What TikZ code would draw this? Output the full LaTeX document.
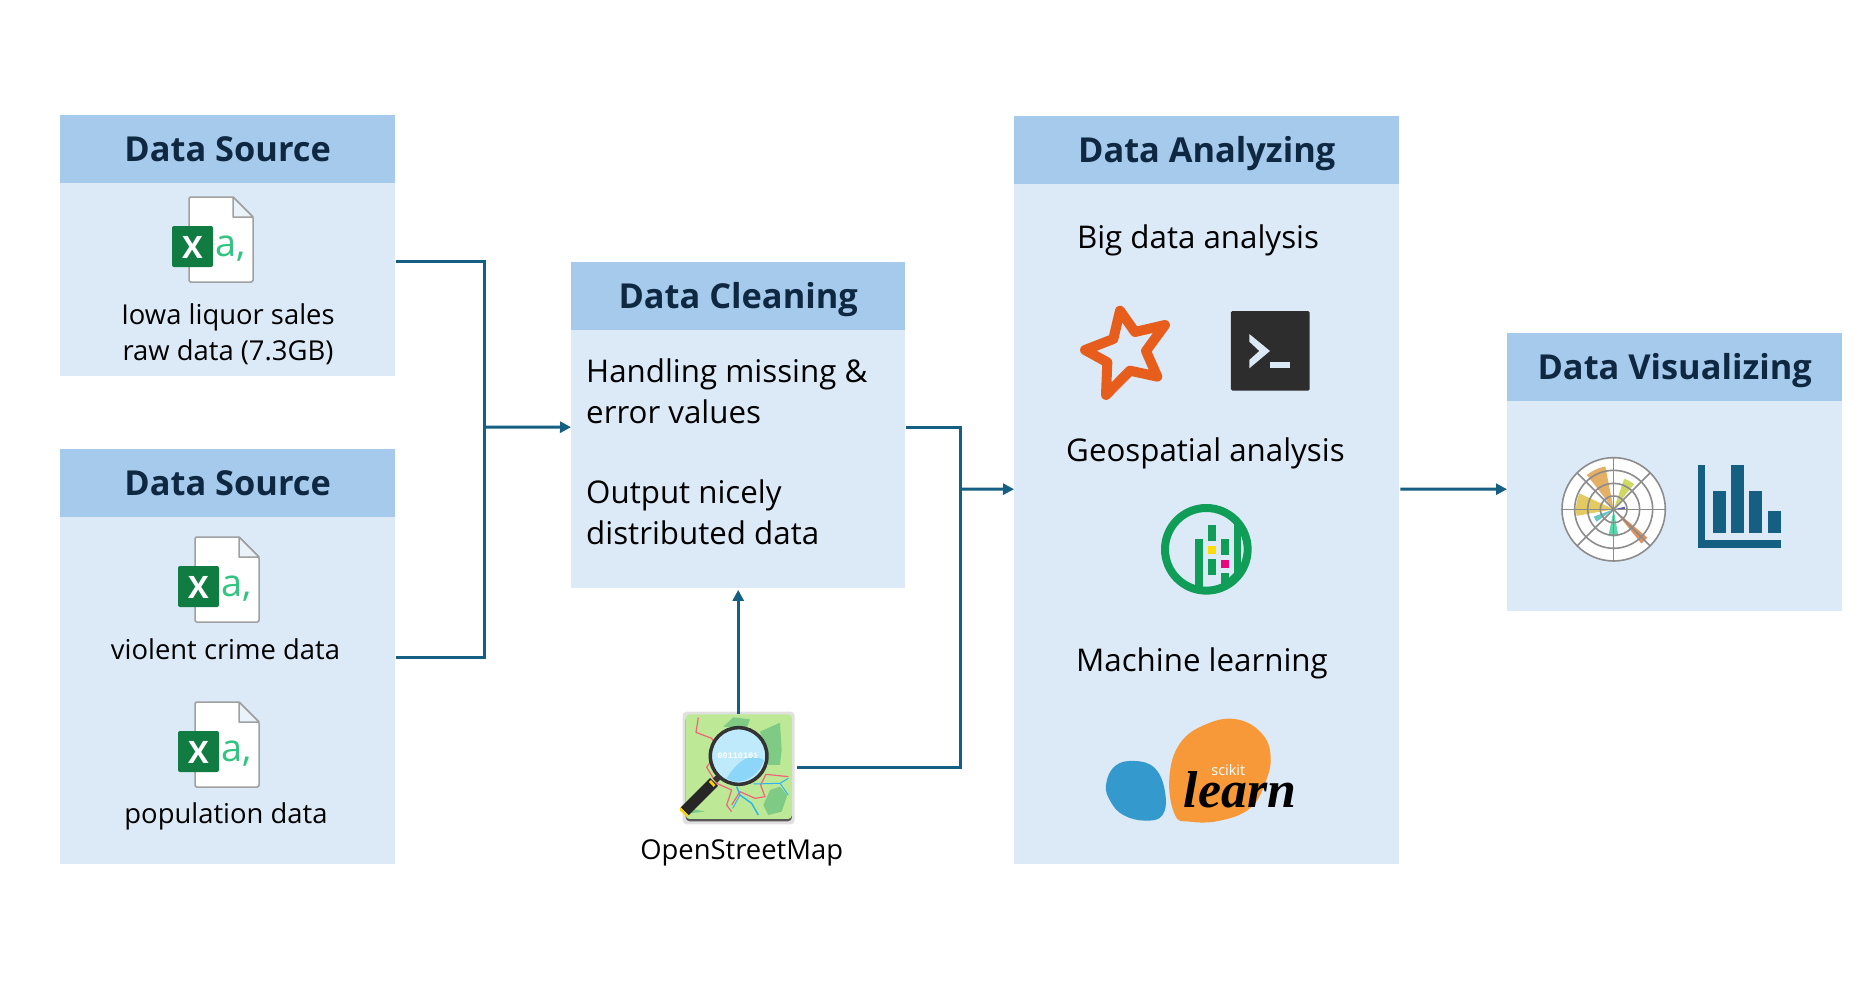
\documentclass[tikz,border=0pt]{standalone}
\usepackage{fontspec}
\setmainfont{Open Sans}
\newfontfamily\learnfont{Liberation Serif}
\newfontfamily\monofnt{Liberation Mono}
\usetikzlibrary{arrows.meta,calc}
\definecolor{headc}{HTML}{A6CAEC}
\definecolor{bodyc}{HTML}{DCEAF7}
\definecolor{navy}{HTML}{0E2841}
\definecolor{flow}{HTML}{156082}
\definecolor{xlgreen}{HTML}{107C41}
\definecolor{xla}{HTML}{33C481}
\definecolor{docgray}{HTML}{A0A0A0}
\definecolor{spark}{HTML}{E65D1C}
\definecolor{term}{HTML}{2D2D2D}
\definecolor{ringgreen}{HTML}{0F9D58}
\definecolor{skorange}{HTML}{F89939}
\definecolor{skblue}{HTML}{3499CD}
\definecolor{polgray}{HTML}{8C8C8C}
\definecolor{osmg}{HTML}{BDE997}
\definecolor{osmd}{HTML}{7FCB85}
\definecolor{osmr}{HTML}{F0637A}
\definecolor{osmb}{HTML}{2EB4F5}
\definecolor{wyellow}{HTML}{E3C85A}
\definecolor{wtan}{HTML}{E3AC5E}
\definecolor{wolive}{HTML}{CCD65B}
\definecolor{wpurple}{HTML}{5A55B5}
\definecolor{worange}{HTML}{E38B52}
\definecolor{wgreen}{HTML}{52D6A8}
\definecolor{wteal}{HTML}{5CC5C5}
\tikzset{
  headbox/.style={fill=headc,inner sep=0,anchor=north west,text=navy,
    text height=31bp,text depth=7bp,
    font=\fontsize{34.5}{34.5}\selectfont\bfseries},
  bodybox/.style={fill=bodyc,inner sep=0,anchor=north west},
  lbl/.style={inner sep=0,text=black,anchor=base,font=\fontsize{27.5}{36}\selectfont,align=center},
  biglbl/.style={inner sep=0,text=black,anchor=base,font=\fontsize{31.4}{41}\selectfont,align=left},
  flowline/.style={draw=flow,line width=3bp},
  flowarrow/.style={flowline,-{Triangle[length=11bp,width=11bp]}}
}
\newcommand{\xlicon}[2]{%
  \begin{scope}[shift={(#1,#2)}]
    \draw[docgray,line width=1.5bp,fill=white,line join=round,rounded corners=1.5bp]
      (189,197) -- (233,197) -- (253,217) -- (253,282) -- (189,282) -- cycle;
    \draw[docgray,line width=1.5bp,fill=bodyc!60!white,line join=round] (233,197) -- (233,217) -- (253,217) -- cycle;
    \fill[xlgreen,rounded corners=2bp] (172,226) rectangle (213,267);
    \node[inner sep=0,anchor=base,text=white,font=\fontsize{31}{31}\selectfont\bfseries] (xlx#2) at (192.5,258) {X};
    \node[inner sep=0,anchor=base west,text=xla,font=\fontsize{38}{38}\selectfont] (xla#2) at (215,256) {a,};
  \end{scope}}
\newcommand{\rosewedge}[4]{%
  \fill[#4,opacity=.95] (251,208) -- plot[domain=#1:#2,samples=8] ({251+#3*cos(\x)},{208-#3*sin(\x)}) -- cycle;}
\begin{document}
\begin{tikzpicture}[x=1bp,y=-1bp]
\useasboundingbox (0,0) rectangle (1874,985);
\fill[white] (0,0) rectangle (1874,985);

% boxes
\node[bodybox,minimum width=335bp,minimum height=193bp] (s1body) at (60,183) {};
\node[headbox,minimum width=335bp,minimum height=68bp] (s1head) at (60,115) {Data Source};
\node[bodybox,minimum width=335bp,minimum height=347bp] (s2body) at (60,517) {};
\node[headbox,minimum width=335bp,minimum height=68bp] (s2head) at (60,449) {Data Source};
\node[bodybox,minimum width=334bp,minimum height=258bp] (cbody) at (571,330) {};
\node[headbox,minimum width=334bp,minimum height=68bp] (chead) at (571,262) {Data Cleaning};
\node[bodybox,minimum width=385bp,minimum height=680bp] (abody) at (1014,184) {};
\node[headbox,minimum width=385bp,minimum height=68bp] (ahead) at (1014,116) {Data Analyzing};
\node[bodybox,minimum width=335bp,minimum height=210bp] (vbody) at (1507,401) {};
\node[headbox,minimum width=335bp,minimum height=68bp] (vhead) at (1507,333) {Data Visualizing};

% excel icons
\xlicon{0}{0}
\xlicon{6}{340}
\xlicon{6}{505}

% labels (anchor base = baseline of the last line)
\node[lbl] (t1) at (228,360) {Iowa liquor sales\\raw data (7.3GB)};
\node[lbl] (t2) at (225.5,659) {violent crime data};
\node[lbl] (t3) at (226,823.5) {population data};
\node[lbl] (t4) at (741.7,859) {OpenStreetMap};
\node[biglbl,anchor=base west] (t5) at (586,423) {Handling missing \&\\error values};
\node[biglbl,anchor=base west] (t6) at (586,544) {Output nicely\\distributed data};
\node[biglbl] (t7) at (1198,248) {Big data analysis};
\node[biglbl] (t8) at (1205.5,461) {Geospatial analysis};
\node[biglbl] (t9) at (1202,671) {Machine learning};

% spark star
\begin{scope}[shift={(1050,280)},x=.3333bp,y=-.3333bp]
  \draw[spark,line width=10bp,line join=round]
    (210,92) -- (255,156) -- (345,135) -- (288,213) -- (322,290) -- (240,272)
    -- (168,345) -- (172,247) -- (105,210) -- (190,177) -- cycle;
  % terminal
  \fill[term,rounded corners=1.5bp] (543,93) rectangle (779,332);
  \fill[bodyc] (598,162) -- (660,213) -- (598,265) -- (598,240) -- (628,213) -- (598,185) -- cycle;
  \fill[bodyc] (661,245) rectangle (721,263);
\end{scope}

% geospatial ring icon
\begin{scope}[shift={(1130,480)},x=.3333bp,y=-.3333bp]
  \draw[ringgreen,line width=8bp] (229,208) circle[radius=124];
  \fill[ringgreen] (196,177) rectangle (219,325);
  \fill[ringgreen] (234,135) rectangle (258,184);
  \fill[ringgreen] (234,238) rectangle (258,286);
  \fill[ringgreen] (272,177) rectangle (296,225);
  \fill[ringgreen] (272,279) rectangle (296,325);
  \fill[ringgreen] (311,125) rectangle (334,290);
  \fill[ringgreen] (296,295) -- (311,280) -- (334,280) -- (311,305) -- cycle;
  \fill[yellow!80!orange] (234,199) rectangle (258,222);
  \fill[magenta!85!red] (272,240) rectangle (296,264);
\end{scope}

% scikit-learn
\begin{scope}[shift={(1080,700)},x=.3333bp,y=-.3333bp]
  \fill[skblue] plot[smooth cycle,tension=.7] coordinates
    {(78,255) (105,198) (165,183) (225,205) (255,275) (248,345) (195,362) (130,345) (92,305)};
  \fill[skorange] plot[smooth cycle,tension=.7] coordinates
    {(268,235) (300,130) (380,72) (470,58) (545,100) (572,170) (555,250) (510,325) (420,362) (330,365) (285,345)};
  \node[inner sep=0,anchor=base,text=white,font=\fontsize{14.5}{14.5}\selectfont] (sk) at (445,226) {scikit};
  \node[inner sep=0,anchor=base,text=black,font=\fontsize{52}{52}\learnfont\selectfont\bfseries\itshape] (learn) at (480,322) {learn};
\end{scope}

% polar chart and bar chart
\begin{scope}[shift={(1530,440)},x=.3333bp,y=-.3333bp]
  \fill[white] (251,208) circle[radius=155];
  \rosewedge{155}{190}{113}{wyellow}
  \rosewedge{101}{128}{131}{wtan}
  \rosewedge{51}{71}{97}{wolive}
  \rosewedge{0}{13}{34}{wpurple}
  \rosewedge{-51}{-40}{132}{worange}
  \rosewedge{-101}{-80}{81}{wgreen}
  \rosewedge{200}{216}{63}{wteal}
  \begin{scope}[polgray,line width=1.6bp]
    \draw (251,208) circle[radius=155];
    \draw (251,208) circle[radius=117];
    \draw (251,208) circle[radius=78];
    \draw (251,208) circle[radius=40];
    \draw (96,208) -- (406,208);
    \draw (251,53) -- (251,363);
    \draw (141,98) -- (361,318);
    \draw (141,318) -- (361,98);
  \end{scope}
  \fill[flow] (504,75) rectangle (526,323);
  \fill[flow] (504,301) rectangle (752,323);
  \fill[flow] (548,152) rectangle (588,279);
  \fill[flow] (603,75) rectangle (643,279);
  \fill[flow] (658,152) rectangle (697,279);
  \fill[flow] (713,214) rectangle (752,279);
\end{scope}

% OpenStreetMap icon
\begin{scope}[shift={(640,680)},x=.3333bp,y=-.3333bp]
  \fill[black!12,rounded corners=4bp] (128,95) rectangle (464,433);
  \fill[black!65,rounded corners=4bp] (137,108) rectangle (456,424);
  \fill[osmg,rounded corners=4bp] (137,103) rectangle (456,417);
  \node[inner sep=0,minimum width=106bp,minimum height=105bp] (osm) at (296,260) {};
  \fill[osmd] (250,140) -- (280,112) -- (330,118) -- (320,145) -- cycle;
  \fill[osmd] (360,155) -- (420,128) -- (425,210) -- (420,255) -- (385,255) -- (375,200) -- cycle;
  \fill[osmd] (370,375) -- (390,330) -- (420,320) -- (442,345) -- (425,395) -- (385,405) -- cycle;
  \fill[osmd] (150,385) -- (195,395) -- (150,400) -- cycle;
  \draw[osmr,line width=1.2bp,line join=round]
    (175,113) -- (168,157) -- (215,175) -- (230,200);
  \draw[osmr,line width=1.2bp,line join=round]
    (215,240) -- (200,262) -- (230,310) -- (275,330) -- (260,375) -- (275,395);
  \draw[osmr,line width=1.2bp,line join=round]
    (275,375) -- (300,335) -- (345,355) -- (375,350) -- (362,315) -- (378,283) -- (445,290);
  \draw[osmb,line width=1.5bp,line join=round]
    (290,320) -- (300,345) -- (335,370) -- (355,405);
  \draw[osmb,line width=1bp] (300,345) -- (278,385);
  \draw[osmb,line width=1bp] (340,312) -- (420,310) -- (445,295);
  \draw[osmb,line width=1bp] (420,310) -- (445,345);
  % magnifier
  \draw[black!85,line width=11bp,line cap=butt] (222,306) -- (134,394);
  \draw[black!80,line width=6bp] (245,282) -- (225,302);
  \fill[yellow!70!orange] (213,300) -- (226,315) -- (221,321) -- (207,306) -- cycle;
  \fill[yellow!70!orange] (121,381) -- (146,407) -- (141,411) -- (120,392) -- cycle;
  \draw[black!80,line width=3.5bp,fill=cyan!25!white] (296,228) circle[radius=85];
  \fill[osmb!55!white] (260,295) .. controls (300,230) and (340,220) .. (372,240) .. controls (360,280) and (320,310) .. (280,305) -- cycle;
  \node[inner sep=0,text=white,font=\fontsize{8.5}{8.5}\monofnt\selectfont\bfseries] (bits) at (294,227) {00110101};
\end{scope}

% connectors
\coordinate (j1) at (484,427);
\coordinate (j2) at (960,489);
\draw[flowline] ([yshift=18.5bp,xshift=1bp]s1body.east) -| (j1);
\draw[flowline] ([yshift=33.5bp,xshift=1bp]s2body.east) -| (j1);
\draw[flowarrow] (j1) -- ([yshift=32bp]cbody.west);
\draw[flowline] ([yshift=32bp,xshift=1bp]cbody.east) -| (j2);
\draw[flowline] ([xshift=5.5bp,yshift=-.5bp]osm.east) -| (j2);
\draw[flowarrow] (j2) -- ([yshift=35bp]abody.west);
\draw[flowarrow] ([xshift=1bp,yshift=35bp]abody.east) -- ([yshift=17bp]vbody.west);
\draw[flowarrow] (osm.north -| cbody.south) -- ([yshift=-1.5bp]cbody.south);
\end{tikzpicture}
\end{document}
